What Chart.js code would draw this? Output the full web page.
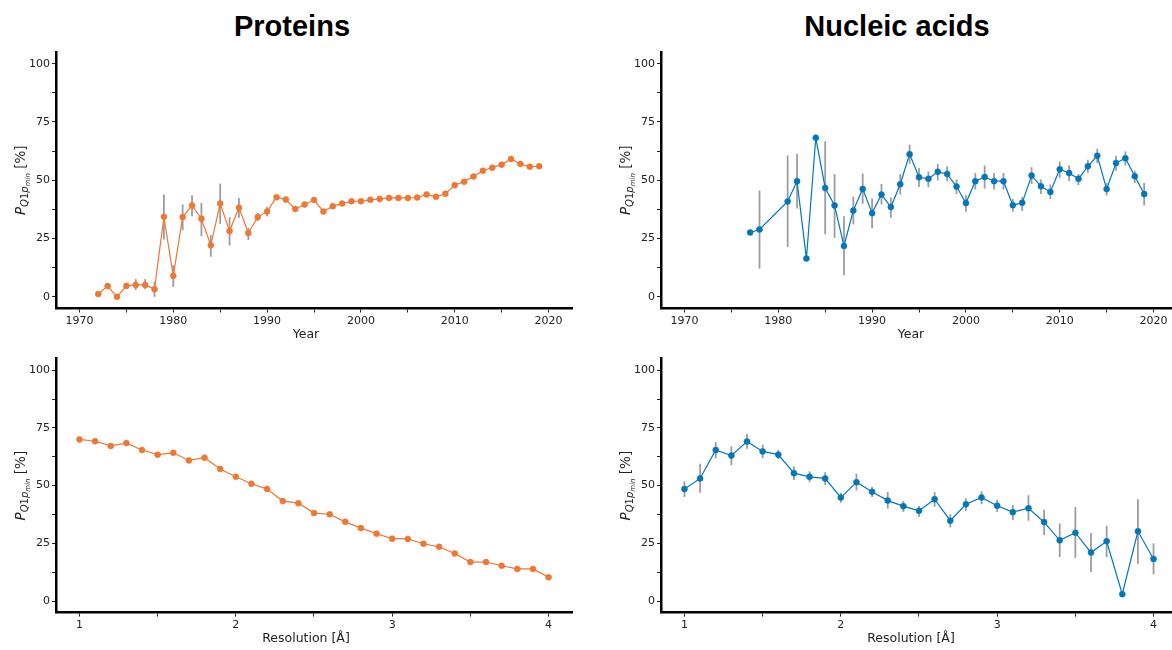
<!DOCTYPE html>
<html>
<head>
<meta charset="utf-8">
<script src="https://cdn.jsdelivr.net/npm/chart.js@4.4.0/dist/chart.umd.min.js"></script>
<style>
  html, body { margin: 0; padding: 0; background: #fff; overflow: hidden; }
  body { width: 1172px; height: 650px; position: relative; }
  canvas { position: absolute; }
  .ttl { position: absolute; top: 10px; font: bold 29px "Liberation Sans", Arial, sans-serif; color: #000;
         transform: translateX(-50%); white-space: nowrap; }
</style>
</head>
<body>
<div class="ttl" style="left:292px">Proteins</div>
<div class="ttl" style="left:897px">Nucleic acids</div>
<canvas id="c1" width="586" height="310" style="left:0;top:40px"></canvas>
<canvas id="c2" width="586" height="310" style="left:605px;top:40px"></canvas>
<canvas id="c3" width="586" height="300" style="left:0;top:350px"></canvas>
<canvas id="c4" width="586" height="300" style="left:605px;top:350px"></canvas>
<script>
// tick labels
const yearTicks = [1970, 1980, 1990, 2000, 2010, 2020];
const resTicks = [1, 2, 3, 4];
const pctTicks = [0, 25, 50, 75, 100];

// Proteins vs year
const protYears = [1972,1973,1974,1975,1976,1977,1978,1979,1980,1981,1982,1983,1984,1985,1986,1987,1988,1989,1990,
  1991,1992,1993,1994,1995,1996,1997,1998,1999,2000,2001,2002,2003,2004,2005,2006,2007,2008,2009,2010,2011,2012,2013,
  2014,2015,2016,2017,2018,2019];
const protYearVal = [1.2,4.6,0,4.7,5.1,5.1,3.3,34.3,9.0,34.2,39.2,33.5,22.1,40.0,28.2,38.2,27.4,34.2,36.6,
  42.7,41.7,37.7,39.6,41.5,36.6,38.9,40.0,41.0,41.0,41.6,42.0,42.4,42.4,42.4,42.6,43.9,42.9,44.2,47.9,49.4,51.6,54.1,
  55.4,56.7,59.1,57.0,55.8,56.0];
const protYearLo = [null,null,null,3.8,2.9,3.3,0,24.6,4.3,28.5,34.6,26.0,17.2,31.3,22.1,33.9,24.4,32.5,34.6,
  null,null,null,null,null,null,null,null,null,null,null,null,null,null,null,null,null,null,null,null,null,null,null,
  null,null,null,null,null,null];
const protYearHi = [null,null,null,6.0,7.6,7.6,6.4,43.9,13.5,39.6,43.6,40.3,26.5,48.6,34.2,42.4,29.6,36.0,38.5,
  null,null,null,null,null,null,null,null,null,null,null,null,null,null,null,null,null,null,null,null,null,null,null,
  null,null,null,null,null,null];

// Nucleic acids vs year
const naYears = [1977,1978,1981,1982,1983,1984,1985,1986,1987,1988,1989,1990,1991,1992,1993,1994,1995,1996,1997,1998,
  1999,2000,2001,2002,2003,2004,2005,2006,2007,2008,2009,2010,2011,2012,2013,2014,2015,2016,2017,2018,2019];
const naYearVal = [27.6,28.9,40.9,49.6,16.4,68.2,46.7,39.2,21.8,37.0,46.3,35.9,43.9,38.5,48.3,61.2,51.3,50.6,53.6,52.7,
  47.3,40.2,49.6,51.4,49.6,49.6,39.3,40.3,52.0,47.4,45.0,54.7,53.1,50.6,56.0,60.5,46.2,57.4,59.4,51.7,44.1];
const naYearLo = [null,12.1,21.4,37.9,null,null,26.8,25.3,9.3,31.1,39.9,29.4,39.6,33.9,43.9,57.1,47.1,47.0,49.9,49.6,
  44.1,36.5,46.0,46.4,46.0,46.0,36.5,36.8,48.4,44.1,42.0,51.0,49.6,47.9,53.1,57.4,43.5,54.1,56.3,48.8,39.2];
const naYearHi = [null,45.6,60.6,61.4,null,null,66.7,52.7,34.6,42.9,52.9,42.2,48.4,42.6,52.7,65.3,55.3,53.8,57.0,56.0,
  50.3,43.6,53.1,56.3,53.1,53.1,42.0,42.9,55.6,50.3,48.2,58.1,56.4,52.7,58.8,63.5,48.8,60.5,62.4,54.1,48.8];

// Resolution bins (shared)
const resBins = [1.0,1.1,1.2,1.3,1.4,1.5,1.6,1.7,1.8,1.9,2.0,2.1,2.2,2.3,2.4,2.5,2.6,2.7,2.8,2.9,3.0,3.1,3.2,3.3,3.4,
  3.5,3.6,3.7,3.8,3.9,4.0];
const protResVal = [70.0,69.2,67.2,68.4,65.4,63.4,64.2,60.9,62.1,57.2,53.8,50.8,48.5,43.3,42.4,38.1,37.6,34.3,31.6,29.2,
  27.0,26.9,24.8,23.5,20.6,16.9,16.9,15.3,13.9,13.9,10.3];
const naResVal = [48.5,53.1,65.4,63.0,69.1,64.8,63.4,55.4,53.8,53.1,44.8,51.5,47.3,43.5,41.1,39.1,44.1,34.8,41.9,44.9,
  41.3,38.5,40.2,34.2,26.3,29.6,21.0,25.9,3.0,30.2,18.2];
const naResLo = [45.1,46.9,61.9,58.8,66.0,61.9,61.5,52.4,51.5,50.2,42.6,47.9,45.1,40.0,38.6,36.5,40.8,31.9,39.1,41.9,
  38.6,35.1,34.8,28.6,19.0,18.7,12.6,19.0,null,16.2,11.6];
const naResHi = [51.9,59.5,68.8,67.0,72.4,67.7,65.5,58.4,56.2,55.8,46.9,55.1,49.5,47.2,43.3,41.2,47.2,37.6,44.5,47.6,
  43.8,41.6,45.8,39.5,33.6,40.8,29.5,32.6,null,44.1,25.0];

const ORANGE = '#EE7733';
const BLUE = '#0077BB';
const TICK_FONT = { family: 'DejaVu Sans', size: 11 };

function withMinor(major) {
  const out = [];
  for (let i = 0; i < major.length; i++) {
    out.push(major[i]);
    if (i < major.length - 1) out.push((major[i] + major[i + 1]) / 2);
  }
  return out;
}

// error bars + axis titles drawn by hand
const extras = {
  id: 'extras',
  beforeDatasetsDraw(chart, args, opts) {
    const { ctx, scales: { x, y } } = chart;
    ctx.save();
    ctx.strokeStyle = 'rgba(140,140,140,0.85)';
    ctx.lineWidth = 1.8;
    opts.xs.forEach((xv, i) => {
      if (opts.lo[i] == null) return;
      const px = x.getPixelForValue(xv);
      ctx.beginPath();
      ctx.moveTo(px, y.getPixelForValue(opts.lo[i]));
      ctx.lineTo(px, y.getPixelForValue(opts.hi[i]));
      ctx.stroke();
    });
    ctx.restore();
  },
  afterDraw(chart, args, opts) {
    const { ctx, chartArea: a } = chart;
    ctx.save();
    ctx.fillStyle = '#222';
    // x title
    ctx.font = '12.5px "DejaVu Sans"';
    ctx.textAlign = 'center';
    ctx.textBaseline = 'middle';
    ctx.fillText(opts.xTitle, (a.left + a.right) / 2 - 8, a.bottom + 26);
    // y title: P_{Q1p_{min}} [%]
    const parts = [
      { t: 'P', f: 'italic 13.5px "DejaVu Sans"', dy: 0 },
      { t: 'Q', f: 'italic 10px "DejaVu Sans"', dy: 3 },
      { t: '1', f: '10px "DejaVu Sans"', dy: 3 },
      { t: 'p', f: 'italic 10px "DejaVu Sans"', dy: 3 },
      { t: 'min', f: 'italic 7px "DejaVu Sans"', dy: 5.5 },
      { t: ' [%]', f: '13.5px "DejaVu Sans"', dy: 0 }
    ];
    let total = 0;
    parts.forEach(p => { ctx.font = p.f; p.w = ctx.measureText(p.t).width; total += p.w; });
    ctx.translate(20, (a.top + a.bottom) / 2);
    ctx.rotate(-Math.PI / 2);
    ctx.textAlign = 'left';
    ctx.textBaseline = 'alphabetic';
    let cx = -total / 2;
    parts.forEach(p => { ctx.font = p.f; ctx.fillText(p.t, cx, 4.5 + p.dy); cx += p.w; });
    ctx.restore();
  }
};

function makeChart(id, xs, ys, lo, hi, color, xMin, xMax, xMajor, xTitle, padTop, axisH) {
  const xAll = withMinor(xMajor);
  const yAll = withMinor(pctTicks);
  return new Chart(document.getElementById(id), {
    type: 'line',
    data: {
      datasets: [{
        data: xs.map((v, i) => ({ x: v, y: ys[i] })),
        borderColor: color,
        backgroundColor: color,
        borderWidth: 1.2,
        pointRadius: 3,
        pointBorderWidth: 0.8,
        pointBorderColor: color + 'AA',
        tension: 0
      }]
    },
    options: {
      responsive: false,
      animation: false,
      devicePixelRatio: 1,
      layout: { padding: { top: padTop, right: 14, left: 0, bottom: 0 } },
      plugins: {
        legend: { display: false },
        tooltip: { enabled: false },
        extras: { xs, lo, hi, xTitle }
      },
      scales: {
        x: {
          type: 'linear', min: xMin, max: xMax,
          afterBuildTicks: s => { s.ticks = xAll.map(v => ({ value: v })); },
          afterFit: s => { s.height = axisH; },
          grid: { drawOnChartArea: false, tickLength: 4, tickColor: '#222', lineWidth: 1 },
          border: { display: true, color: '#000', width: 2.5 },
          ticks: {
            font: TICK_FONT, color: '#222', padding: 2, maxRotation: 0, autoSkip: false,
            callback: v => xMajor.includes(v) ? String(v) : ''
          }
        },
        y: {
          type: 'linear', min: -5, max: 105,
          afterBuildTicks: s => { s.ticks = yAll.map(v => ({ value: v })); },
          afterFit: s => { s.width = 56; },
          grid: { drawOnChartArea: false, tickLength: 4, tickColor: '#222', lineWidth: 1 },
          border: { display: true, color: '#000', width: 2.5 },
          ticks: {
            font: TICK_FONT, color: '#222', padding: 2, autoSkip: false,
            callback: v => pctTicks.includes(v) ? String(v) : ''
          }
        }
      }
    },
    plugins: [extras]
  });
}

makeChart('c1', protYears, protYearVal, protYearLo, protYearHi, ORANGE, 1967.5, 2022.5, yearTicks, 'Year', 12, 41.5);
makeChart('c2', naYears, naYearVal, naYearLo, naYearHi, BLUE, 1967.5, 2022.5, yearTicks, 'Year', 12, 41.5);
makeChart('c3', resBins, protResVal, resBins.map(() => null), resBins.map(() => null), ORANGE, 0.85, 4.15, resTicks, 'Resolution [Å]', 6.4, 37.4);
makeChart('c4', resBins, naResVal, naResLo, naResHi, BLUE, 0.85, 4.15, resTicks, 'Resolution [Å]', 6.4, 37.4);
</script>
</body>
</html>
